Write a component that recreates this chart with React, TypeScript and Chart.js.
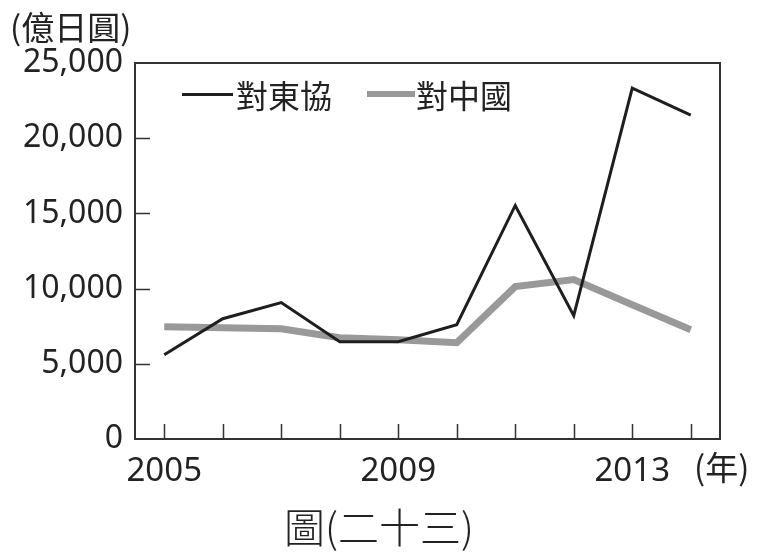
import React, { useEffect, useRef } from "react";
import { Chart, registerables } from "chart.js";

Chart.register(...registerables);

const years = ["2005", "2006", "2007", "2008", "2009", "2010", "2011", "2012", "2013", "2014"];
const shownYears = ["2005", "2009", "2013"];
const asean = [5600, 8000, 9070, 6470, 6470, 7600, 15530, 8200, 23330, 21530];
const china = [7470, 7400, 7330, 6730, 6600, 6400, 10130, 10600, 8930, 7270];
const yTicks = [0, 5000, 10000, 15000, 20000, 25000];

const NUM_FONT = "'Noto Sans', 'DejaVu Sans', sans-serif";
const CJK_FONT = "'Noto Sans CJK TC', 'Noto Sans CJK JP', sans-serif";

const framePlugin = {
  id: "frame",
  afterDatasetsDraw(chart: any) {
    const { ctx, chartArea: a, scales } = chart;
    ctx.save();
    ctx.strokeStyle = "#333";
    ctx.lineWidth = 2;
    ctx.strokeRect(a.left, a.top, a.right - a.left, a.bottom - a.top);
    ctx.lineWidth = 1.5;
    ctx.beginPath();
    scales.x.ticks.forEach((_t: any, i: number) => {
      const x = Math.round(scales.x.getPixelForTick(i)) + 0.5;
      ctx.moveTo(x, a.bottom);
      ctx.lineTo(x, a.bottom - 15);
    });
    yTicks.forEach((v) => {
      if (v === 0 || v === 25000) return;
      const y = Math.round(scales.y.getPixelForValue(v)) + 0.5;
      ctx.moveTo(a.left, y);
      ctx.lineTo(a.left + 15, y);
    });
    ctx.stroke();
    ctx.restore();
  },
};

export default function App() {
  const ref = useRef<HTMLCanvasElement>(null);
  useEffect(() => {
    const chart = new Chart(ref.current!, {
      type: "line",
      data: {
        labels: years,
        datasets: [
          {
            label: "對東協",
            data: asean,
            borderColor: "#1e1e1e",
            borderWidth: 3,
            pointRadius: 0,
            tension: 0,
            order: 0,
          },
          {
            label: "對中國",
            data: china,
            borderColor: "#999999",
            borderWidth: 7,
            pointRadius: 0,
            tension: 0,
            order: 1,
          },
        ],
      },
      options: {
        animation: false,
        responsive: false,
        layout: { padding: { left: 0, right: 40, top: 63, bottom: 0 } },
        plugins: { legend: { display: false }, tooltip: { enabled: false } },
        scales: {
          x: {
            type: "category",
            offset: true,
            grid: { display: false },
            border: { display: false },
            ticks: {
              autoSkip: false,
              maxRotation: 0,
              padding: 5,
              color: "#222",
              font: { family: NUM_FONT, size: 33 },
              callback: function (this: any, _v: any, i: number) {
                const lab = years[i];
                return shownYears.includes(lab) ? lab : "";
              },
            },
            afterFit: (s: any) => {
              s.height = 119;
            },
          },
          y: {
            min: 0,
            max: 25000,
            grid: { display: false },
            border: { display: false },
            afterBuildTicks: (s: any) => {
              s.ticks = yTicks.map((v) => ({ value: v }));
            },
            ticks: {
              padding: 4,
              color: "#222",
              font: { family: NUM_FONT, size: 32 },
              callback: (v: any) => Number(v).toLocaleString("en-US"),
            },
            afterFit: (s: any) => {
              s.width = 135;
            },
          },
        },
      },
      plugins: [framePlugin],
    });
    return () => chart.destroy();
  }, []);

  const txt: React.CSSProperties = {
    position: "absolute",
    fontFamily: CJK_FONT,
    color: "#222",
    lineHeight: 1,
    whiteSpace: "nowrap",
  };

  return (
    <div style={{ position: "fixed", left: 0, top: 0, width: 760, height: 558, background: "#fff" }}>
      <canvas ref={ref} width={760} height={558} style={{ position: "absolute", left: 0, top: 0 }} />
      <div style={{ ...txt, left: 10, top: 10, fontSize: 33 }}>(億日圓)</div>
      <div style={{ position: "absolute", left: 182, top: 93, width: 51, height: 3, background: "#1e1e1e" }} />
      <div style={{ ...txt, left: 236, top: 78, fontSize: 32 }}>對東協</div>
      <div style={{ position: "absolute", left: 367, top: 91, width: 48, height: 6, background: "#999" }} />
      <div style={{ ...txt, left: 416, top: 78, fontSize: 32 }}>對中國</div>
      <div style={{ ...txt, left: 694, top: 450, fontSize: 33 }}>(年)</div>
      <div style={{ ...txt, left: 284, top: 505, fontSize: 41, fontWeight: 300 }}>圖(二十三)</div>
    </div>
  );
}
